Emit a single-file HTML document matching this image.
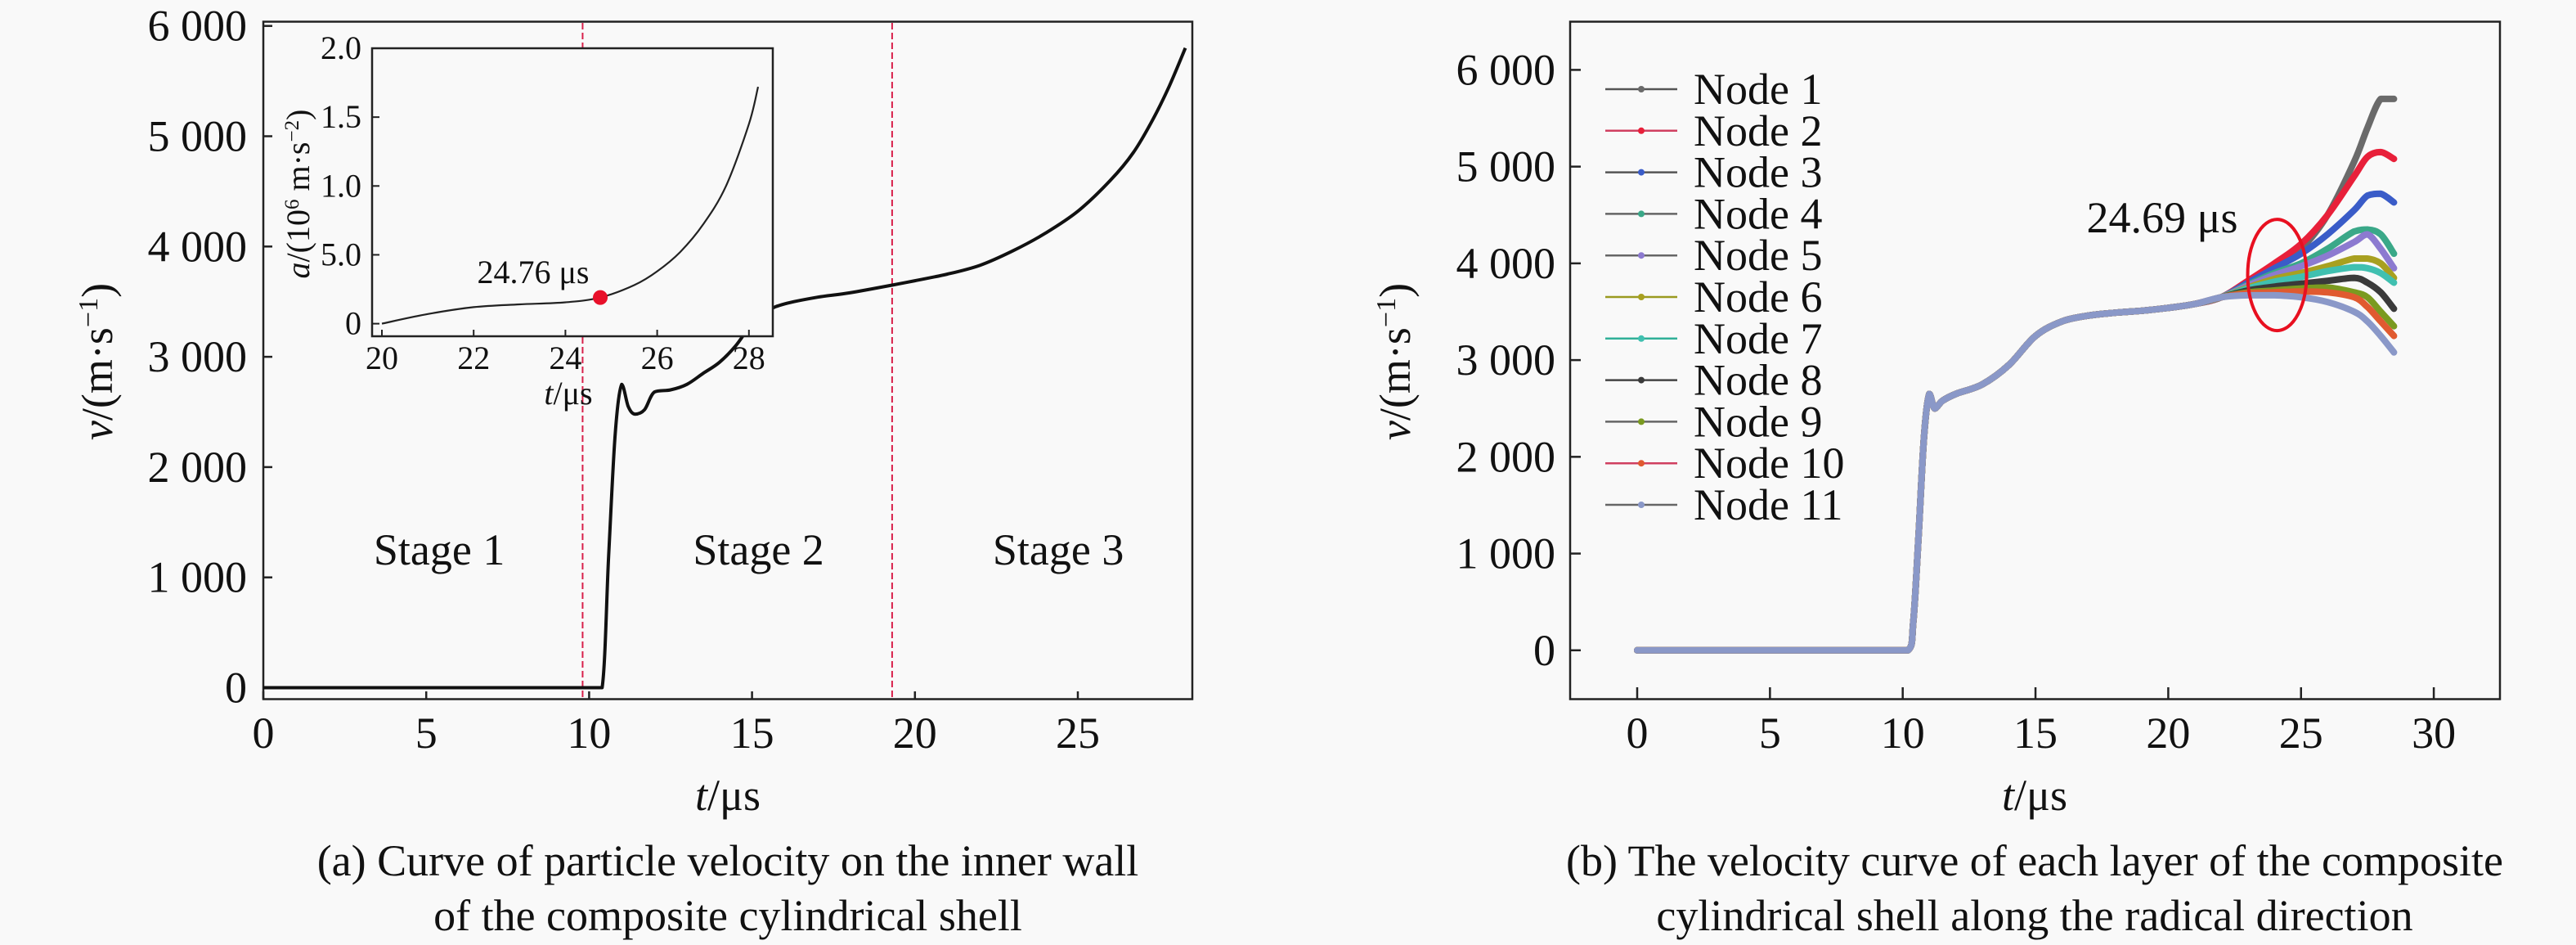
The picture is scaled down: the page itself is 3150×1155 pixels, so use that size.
<!DOCTYPE html>
<html><head><meta charset="utf-8"><style>
html,body{margin:0;padding:0;background:#f9f9f9;overflow:hidden;}
svg{display:block;font-family:"Liberation Serif",serif;}
</style></head><body>
<svg id="fig" width="3150" height="1155" viewBox="0 0 3150 1155"></svg>
<script>
// ---------- data: chart (a) ----------
const aTimes=[0,5,10,10.4,10.6,10.8,11.0,11.2,11.4,11.7,12,12.5,13,13.5,14,14.5,15,15.5,16,17,18,19.3,20,21,22,23,24,25,26,26.7,27.3,27.8,28.3];
const aVel=[0,0,0,0,1200,2300,2750,2550,2480,2520,2680,2700,2750,2850,2950,3100,3300,3420,3480,3540,3580,3650,3690,3750,3830,3960,4120,4320,4600,4850,5150,5450,5800];
const aXTicks=[0,5,10,15,20,25];
const aYTicks=[0,1000,2000,3000,4000,5000,6000];
const aYLabels=["0","1 000","2 000","3 000","4 000","5 000","6 000"];
const aStageLines=[9.8,19.3];
const aStages=["Stage 1","Stage 2","Stage 3"];
const aStageX=[5.4,15.2,24.4];
// inset
const inTimes=[20,21,22,23,24,24.76,25.5,26,26.5,27,27.5,28,28.2];
const inAcc=[0,0.07,0.12,0.14,0.155,0.19,0.28,0.38,0.52,0.72,1.0,1.45,1.72];
const inXTicks=[20,22,24,26,28];
const inYTicks=[0,0.5,1.0,1.5,2.0];
const inYLabels=["0","5.0","1.0","1.5","2.0"];
const inMarkT=24.76, inMarkA=0.19;
// ---------- data: chart (b) ----------
const bBaseT=[0,5,10.2,10.4,10.6,10.8,11.0,11.2,11.5,12,13,14,15,16,17,18,19,20,21,22];
const bBaseV=[0,0,0,300,1200,2200,2650,2500,2580,2650,2750,2950,3250,3400,3460,3490,3510,3540,3580,3650];
const bTailT=[23,24,25,26,27,27.5,28,28.5];
const nodeNames=["Node 1","Node 2","Node 3","Node 4","Node 5","Node 6","Node 7","Node 8","Node 9","Node 10","Node 11"];
const nodeColors=["#6a6a6a","#e8203a","#3a5cc8","#3aa888","#8c7ad0","#a8a020","#40c0b0","#3a3a3a","#7a9a20","#e05a30","#8a98c8"];
const legendLineColors=["#555","#d04060","#555","#666","#666","#9a9a20","#30b098","#444","#666","#d04060","#666"];
const tail1=[3800,3960,4150,4500,5050,5400,5700,5700];
const tail2=[3820,4000,4200,4500,4900,5100,5150,5080];
const tail3=[3800,3950,4100,4300,4550,4700,4720,4630];
const tail4=[3780,3900,4000,4150,4330,4350,4300,4100];
const tail5=[3770,3880,3970,4080,4220,4300,4150,3950];
const tail6=[3750,3840,3900,3970,4050,4050,4000,3850];
const tail7=[3740,3810,3860,3920,3960,3950,3900,3800];
const tail8=[3720,3760,3790,3820,3850,3800,3700,3530];
const tail9=[3700,3720,3740,3750,3700,3650,3500,3350];
const tail10=[3690,3700,3710,3700,3650,3550,3400,3250];
const tail11=[3670,3670,3650,3600,3500,3400,3250,3080];
const tails=[tail1,tail2,tail3,tail4,tail5,tail6,tail7,tail8,tail9,tail10,tail11];
const bXTicks=[0,5,10,15,20,25,30];
const bYTicks=[0,1000,2000,3000,4000,5000,6000];
const bYLabels=["0","1 000","2 000","3 000","4 000","5 000","6 000"];
const bMarkLabel="24.69 μs", bMarkT=24.1, bMarkV=3880;

const NS="http://www.w3.org/2000/svg";
const svg=document.getElementById('fig');
function el(tag,attrs,parent){const e=document.createElementNS(NS,tag);for(const k in attrs)e.setAttribute(k,attrs[k]);(parent||svg).appendChild(e);return e;}
function txt(x,y,s,size,anchor,parent){const t=el('text',{x:x,y:y,'font-size':size,'text-anchor':anchor||'middle',fill:'#111'},parent);t.textContent=s;return t;}
function smooth(P){let d='M'+P[0][0].toFixed(1)+','+P[0][1].toFixed(1);
 const cl=(v,a,b)=>Math.max(Math.min(a,b),Math.min(Math.max(a,b),v));
 for(let i=0;i<P.length-1;i++){const p0=P[Math.max(0,i-1)],p1=P[i],p2=P[i+1],p3=P[Math.min(P.length-1,i+2)];
  const c1=[p1[0]+(p2[0]-p0[0])/6,cl(p1[1]+(p2[1]-p0[1])/6,p1[1],p2[1])],c2=[p2[0]-(p3[0]-p1[0])/6,cl(p2[1]-(p3[1]-p1[1])/6,p1[1],p2[1])];
  c1[0]=cl(c1[0],p1[0],p2[0]);c2[0]=cl(c2[0],p1[0],p2[0]);
  d+='C'+c1[0].toFixed(1)+','+c1[1].toFixed(1)+' '+c2[0].toFixed(1)+','+c2[1].toFixed(1)+' '+p2[0].toFixed(1)+','+p2[1].toFixed(1);}
 return d;}
const F=54, FI=40;

// ===== chart (a) =====
const ax=t=>322+t*39.84, ay=v=>840.5-v*0.1348;
const gA=el('g',{});


el('rect',{x:322,y:26.5,width:1136,height:828,fill:'none',stroke:'#222','stroke-width':2.5},gA);
aXTicks.forEach(t=>{el('line',{x1:ax(t),x2:ax(t),y1:854.5,y2:845,stroke:'#222','stroke-width':2.5},gA);
 const l=txt(ax(t),914,String(t),F,'middle',gA);});
aYTicks.forEach((v,i)=>{el('line',{x1:322,x2:333,y1:ay(v),y2:ay(v),stroke:'#222','stroke-width':2.5},gA);
 const l=txt(302,ay(v)+18,aYLabels[i],F,'end',gA);});
aStageLines.forEach(t=>{const l=el('line',{x1:ax(t),x2:ax(t),y1:28,y2:854,stroke:'#d8204a','stroke-width':2,'stroke-dasharray':'8,4'},gA);
 });
aStages.forEach((s,i)=>{const l=txt(ax(aStageX[i]),690,s,F,'middle',gA);});
const pA=el('path',{d:smooth(aTimes.map((t,i)=>[ax(t),ay(aVel[i])])),fill:'none',stroke:'#111','stroke-width':4,'stroke-linejoin':'round'},gA);

const xtA=txt(890,990,'',F,'middle',gA);xtA.innerHTML='<tspan font-style="italic">t</tspan>/μs';

const ytA=el('text',{transform:'translate(137,442) rotate(-90)','font-size':F,'text-anchor':'middle',fill:'#111'},gA);
ytA.innerHTML='<tspan font-style="italic">v</tspan>/(m·s<tspan baseline-shift="super" font-size="34">−1</tspan>)';

const capA1=txt(890,1070,'(a) Curve of particle velocity on the inner wall',F,'middle',gA);

const capA2=txt(890,1137,'of the composite cylindrical shell',F,'middle',gA);


// inset
const ix=t=>467+(t-20)*56.1, iy=a=>395.6-a*168.3;
const gI=el('g',{});


el('rect',{x:455,y:59,width:490,height:352,fill:'#f9f9f9',stroke:'#222','stroke-width':2.5},gI);
inXTicks.forEach(t=>{el('line',{x1:ix(t),x2:ix(t),y1:411,y2:403,stroke:'#222','stroke-width':2},gI);
 const l=txt(ix(t),451,String(t),FI,'middle',gI);});
inYTicks.forEach((a,i)=>{el('line',{x1:455,x2:464,y1:iy(a),y2:iy(a),stroke:'#222','stroke-width':2},gI);
 const l=txt(442,iy(a)+13,inYLabels[i],FI,'end',gI);});
const pI=el('path',{d:smooth(inTimes.map((t,i)=>[ix(t),iy(inAcc[i])])),fill:'none',stroke:'#222','stroke-width':2.2},gI);

const dI=el('circle',{cx:ix(inMarkT),cy:iy(inMarkA),r:9,fill:'#e8102a'},gI);

const lI=txt(652,346,'24.76 μs',FI,'middle',gI);
const xtI=txt(695,494,'',FI,'middle',gI);xtI.innerHTML='<tspan font-style="italic">t</tspan>/μs';

const ytI=el('text',{transform:'translate(378,237) rotate(-90)','font-size':FI,'text-anchor':'middle',fill:'#111'},gI);
ytI.innerHTML='<tspan font-style="italic">a</tspan>/(10<tspan baseline-shift="super" font-size="25">6</tspan> m·s<tspan baseline-shift="super" font-size="25">−2</tspan>)';


// ===== chart (b) =====
const bx=t=>2002+t*32.47, by=v=>794.8-v*0.11823;
const gB=el('g',{});


el('rect',{x:1920,y:26.5,width:1137,height:828,fill:'none',stroke:'#222','stroke-width':2.5},gB);
bXTicks.forEach(t=>{el('line',{x1:bx(t),x2:bx(t),y1:854.5,y2:840,stroke:'#222','stroke-width':2.5},gB);
 const l=txt(bx(t),914,String(t),F,'middle',gB);});
bYTicks.forEach((v,i)=>{el('line',{x1:1920,x2:1933,y1:by(v),y2:by(v),stroke:'#222','stroke-width':2.5},gB);
 const l=txt(1902,by(v)+18,bYLabels[i],F,'end',gB);});
nodeNames.forEach((n,k)=>{
 const T=bBaseT.concat(bTailT), V=bBaseV.concat(tails[k]);
 const p=el('path',{d:smooth(T.map((t,i)=>[bx(t),by(V[i])])),fill:'none',stroke:nodeColors[k],'stroke-width':8,'stroke-linejoin':'round','stroke-linecap':'round'},gB);
 
 
 const ly=109+k*50.8;
 const lg=el('g',{},gB);
 
 
 el('line',{x1:1963,x2:2051,y1:ly,y2:ly,stroke:legendLineColors[k],'stroke-width':2.5},lg);
 el('circle',{cx:2007,cy:ly,r:4,fill:nodeColors[k]},lg);
 txt(2071,ly+18,n,F,'start',lg);
});
const ell=el('ellipse',{cx:bx(bMarkT),cy:by(bMarkV),rx:36,ry:68,fill:'none',stroke:'#e81020','stroke-width':4},gB);

const ml=txt(2644,284,bMarkLabel,F,'middle',gB);
const xtB=txt(2488,990,'',F,'middle',gB);xtB.innerHTML='<tspan font-style="italic">t</tspan>/μs';

const ytB=el('text',{transform:'translate(1724,442) rotate(-90)','font-size':F,'text-anchor':'middle',fill:'#111'},gB);
ytB.innerHTML='<tspan font-style="italic">v</tspan>/(m·s<tspan baseline-shift="super" font-size="34">−1</tspan>)';

const capB1=txt(2488,1070,'(b) The velocity curve of each layer of the composite',F,'middle',gB);

const capB2=txt(2488,1137,'cylindrical shell along the radical direction',F,'middle',gB);

</script>
</body></html>
